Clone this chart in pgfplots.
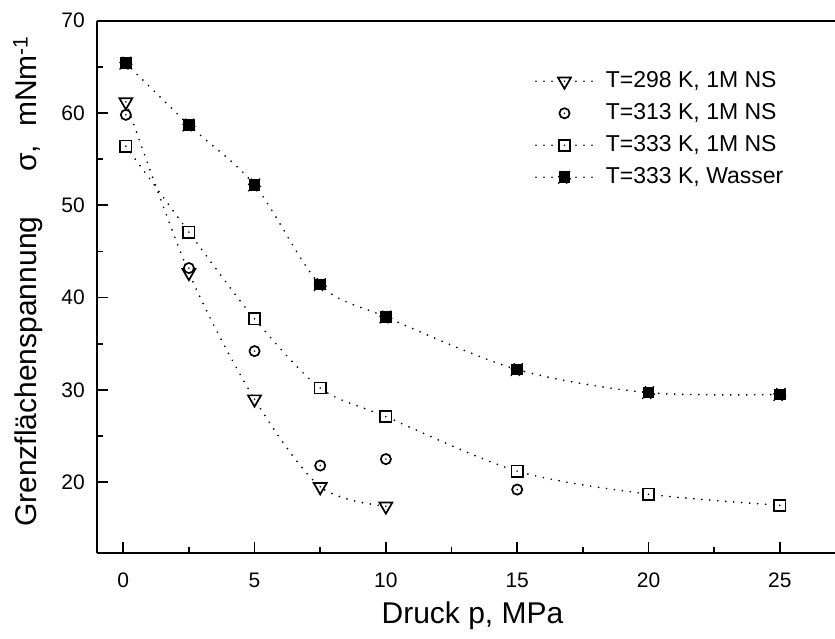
\documentclass[border=0pt]{standalone}
\usepackage{fontspec}
\setmainfont{Liberation Sans}
\usepackage{pgfplots}
\pgfplotsset{compat=1.18}

% open marks with a small dot in the middle
\newcommand{\centredot}{%
  \begin{pgfscope}%
    \pgfsetfillcolor{black}%
    \pgfpathcircle{\pgfpointorigin}{0.9pt}%
    \pgfusepathqfill
  \end{pgfscope}}
\pgfdeclareplotmark{sqdot}{%
  \pgfpathrectangle{\pgfqpoint{-\pgfplotmarksize}{-\pgfplotmarksize}}{\pgfqpoint{2\pgfplotmarksize}{2\pgfplotmarksize}}%
  \pgfusepathqfillstroke
  \centredot}
\pgfdeclareplotmark{cdot}{%
  \pgfpathcircle{\pgfpointorigin}{\pgfplotmarksize}%
  \pgfusepathqfillstroke
  \centredot}
\pgfdeclareplotmark{tridot}{%
  \pgfpathmoveto{\pgfqpoint{0pt}{-\pgfplotmarksize}}%
  \pgfpathlineto{\pgfqpointpolar{30}{\pgfplotmarksize}}%
  \pgfpathlineto{\pgfqpointpolar{150}{\pgfplotmarksize}}%
  \pgfpathclose
  \pgfusepathqfillstroke
  \centredot}

\pgfplotsset{
  dotline/.style={black, line width=1.9pt, line cap=round, dash pattern=on 0pt off 8pt,
    mark options={solid, line width=1.7pt, fill=white, line cap=butt, line join=miter}},
  linelegend/.style={legend image code/.code={%
    \draw[mark repeat=2, mark phase=2, ##1] plot coordinates {(0pt,0pt) (28.5pt,0pt) (57pt,0pt)};}},
  marklegend/.style={legend image code/.code={%
    \draw[##1] plot coordinates {(28.5pt,0pt)};}},
}

\begin{document}
\begin{tikzpicture}
\useasboundingbox (-96.7pt,-86.3pt) rectangle (738.3pt,552.7pt);
\begin{axis}[
  at={(0pt,0pt)}, anchor=south west,
  width=738.3pt, height=532pt, scale only axis,
  xmin=-1.01, xmax=27.1, ymin=12.36, ymax=70,
  axis x line*=box, axis y line*=left,
  xtick={0,5,...,25}, ytick={20,30,...,70},
  minor x tick num=1, minor y tick num=1,
  xtick pos=left, ytick pos=left,
  tick align=inside,
  major tick length=11pt, minor tick length=6pt,
  axis line style={line width=1.8pt, black},
  tick style={line width=1.6pt, black},
  /pgf/number format/assume math mode=true,
  tick label style={font=\fontsize{21}{25}\selectfont},
  xticklabel style={inner sep=0pt, yshift=-20pt},
  yticklabel style={inner sep=0pt, xshift=-11.7pt},
  label style={font=\fontsize{30}{36}\selectfont},
  xlabel={Druck p, MPa},
  xlabel style={at={([yshift=-71.3pt]axis description cs:0.509,0)}, anchor=base, inner sep=0pt},
  ylabel={Grenzflächenspannung\hspace{45pt}σ,\hspace{18pt}mNm\textsuperscript{-1}},
  ylabel style={at={([xshift=-60pt,yshift=25.7pt]axis description cs:0,0)}, anchor=base west, inner sep=0pt},
  legend cell align=left,
  legend style={at={(0.5937,0.9068)}, anchor=north west, draw=none, fill=none,
    font=\fontsize{23}{27}\selectfont, inner sep=0pt, outer sep=0pt,
    row sep=10pt, column sep=12pt,
    nodes={inner sep=0pt, text height=17pt, text depth=5pt}},
  linelegend,
]
\addplot[dotline, smooth, mark=tridot, mark size=7.5pt] coordinates {
  (0.1,61.2) (2.5,42.7) (5,29.0) (7.5,19.5) (10,17.4)
};
\addlegendentry{T=298 K, 1M NS}

\addplot[black, only marks, mark=cdot, mark size=5.1pt,
  mark options={solid, line width=1.7pt, fill=white}, marklegend] coordinates {
  (0.1,59.8) (2.5,43.2) (5,34.2) (7.5,21.8) (10,22.5) (15,19.2)
};
\addlegendentry{T=313 K, 1M NS}

\addplot[dotline, smooth, mark=sqdot, mark size=5.6pt] coordinates {
  (0.1,56.4) (2.5,47.1) (5,37.7) (7.5,30.2) (10,27.1) (15,21.2) (20,18.7) (25,17.5)
};
\addlegendentry{T=333 K, 1M NS}

\addplot[dotline, smooth, mark=square*, mark size=5.8pt, mark options={fill=black}] coordinates {
  (0.1,65.4) (2.5,58.7) (5,52.2) (7.5,41.4) (10,37.9) (15,32.2) (20,29.7) (25,29.5)
};
\addlegendentry{T=333 K, Wasser}
\end{axis}
\end{tikzpicture}
\end{document}
